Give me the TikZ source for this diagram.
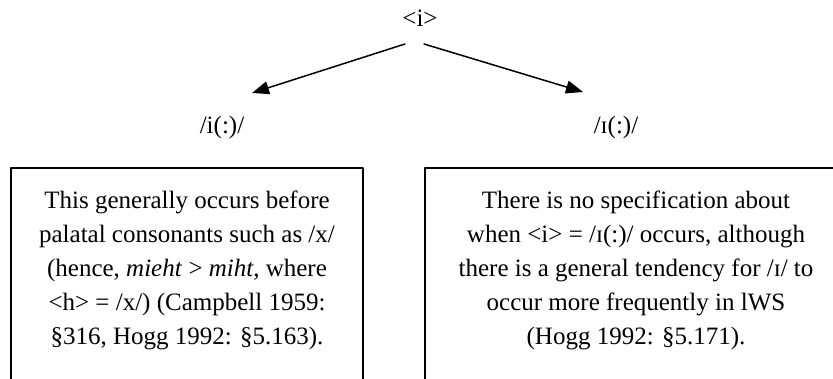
\documentclass[tikz,border=0pt]{standalone}
\usepackage{fontspec}
\setmainfont{Liberation Serif}
\usepackage{tikz}
\usetikzlibrary{positioning,arrows.meta}

\begin{document}
\begin{tikzpicture}[x=1pt,y=-1pt, font=\fontsize{25}{34}\selectfont, line cap=round, line join=round]
	% ===== page =====
	\clip (0,0) rectangle (833,379);
	
	% ===== styles =====
	\tikzset{frame/.style={draw=black, line width=1.4pt},
		phon/.style={inner sep=0pt, anchor=base},
		note/.style={inner sep=0pt, anchor=north, align=center},
		arr/.style={-{Triangle[length=17pt,width=13pt]}, line width=1.5pt}}
	
	% ===== labels =====
	\node[phon] (spell) at (420,27) {<i>};
	\node[phon] (lphon) at (222,134) {/i(:)/};
	\node[phon] (rphon) at (616,134) {/ɪ(:)/};
	
	% ===== arrows =====
	\draw[arr] ([shift={(-15,17)}]spell.base) -- ([shift={(30,-41)}]lphon.base);
	\draw[arr] ([shift={(4,17)}]spell.base) -- ([shift={(-33,-42)}]rphon.base);
	
	% ===== boxes (open at the bottom) =====
	\foreach \l/\r in {11/363,425/847}{
		\draw[frame] (\l,400) -- (\l,168) -- (\r,168) -- (\r,400);
	}
	
	% ===== texts =====
	\node[note] (ltext) at (187,190.9) {This generally occurs before\\ palatal consonants such as /x/\\ (hence, \textit{mieht} > \textit{miht}, where\\ <h> = /x/) (Campbell 1959:\\ §316, Hogg 1992: §5.163).};
	\node[note] (rtext) at (636,190.9) {There is no specification about\\ when <i> = /ɪ(:)/ occurs, although\\ there is a general tendency for /ɪ/ to\\ occur more frequently in lWS\\ (Hogg 1992: §5.171).};
\end{tikzpicture}
\end{document}
